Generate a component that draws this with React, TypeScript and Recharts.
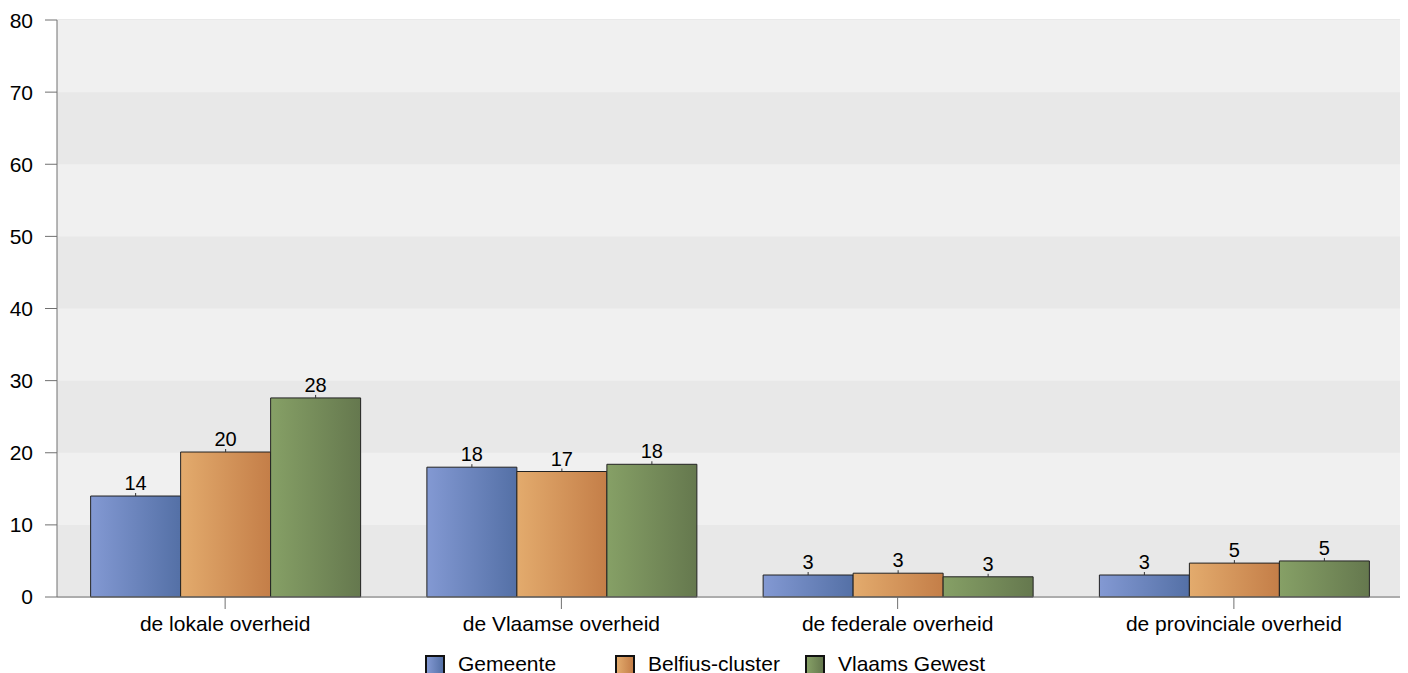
import React from 'react';
import { BarChart, Bar, XAxis, YAxis, CartesianGrid, ReferenceArea, LabelList, Legend } from 'recharts';

const categories = ['de lokale overheid', 'de Vlaamse overheid', 'de federale overheid', 'de provinciale overheid'];
const gemeente = [14.0, 18.0, 3.05, 3.05];
const belfius = [20.1, 17.4, 3.3, 4.7];
const vlaams = [27.6, 18.4, 2.8, 5.0];
const yTicks = [0, 10, 20, 30, 40, 50, 60, 70, 80];
const darkBands = [0, 20, 40, 60];

const series = [
  { key: 'gemeente', name: 'Gemeente', from: '#8399d3', to: '#5470a6' },
  { key: 'belfius', name: 'Belfius-cluster', from: '#e3ab6d', to: '#c47e48' },
  { key: 'vlaams', name: 'Vlaams Gewest', from: '#86a066', to: '#65784e' },
];

const data = categories.map((name, i) => ({
  name,
  gemeente: gemeente[i],
  belfius: belfius[i],
  vlaams: vlaams[i],
}));

const font = 'Arial, "Liberation Sans", sans-serif';

const renderLegend = () => (
  <div style={{ display: 'flex', fontFamily: font, fontSize: 21, lineHeight: '24px', color: '#000', paddingLeft: 417 }}>
    {series.map((s) => (
      <div key={s.key} style={{ display: 'flex', alignItems: 'flex-start', width: 190 }}>
        <span
          style={{
            display: 'inline-block',
            width: 16,
            height: 16,
            marginTop: 3,
            border: '2px solid #111',
            background: `linear-gradient(to right, ${s.from}, ${s.to})`,
            marginRight: 13,
            flex: 'none',
          }}
        />
        <span>{s.name}</span>
      </div>
    ))}
  </div>
);

const renderValue = (props: any) => {
  const { x, y, width, value } = props;
  const cx = Number(x) + Number(width) / 2;
  const top = Number(y);
  return (
    <g>
      <line x1={cx} y1={top} x2={cx} y2={top - 3} stroke="#333" strokeWidth={1} />
      <text x={cx} y={top - 6} textAnchor="middle" fill="#000" fontSize={20} fontFamily={font}>
        {Math.round(Number(value))}
      </text>
    </g>
  );
};

export default function App() {
  return (
    <div style={{ width: 1400, height: 665 }}>
      <BarChart
        width={1400}
        height={665}
        data={data}
        margin={{ top: 12, right: 6, left: 0, bottom: 0 }}
        barCategoryGap="10%"
        barGap={0}
      >
        <defs>
          {series.map((s) => (
            <linearGradient key={s.key} id={`grad-${s.key}`} x1="0" y1="0" x2="1" y2="0">
              <stop offset="0%" stopColor={s.from} />
              <stop offset="100%" stopColor={s.to} />
            </linearGradient>
          ))}
        </defs>
        <ReferenceArea y1={0} y2={80} fill="#f0f0f0" fillOpacity={1} stroke="none" />
        {darkBands.map((b) => (
          <ReferenceArea key={b} y1={b} y2={b + 10} fill="#e8e8e8" fillOpacity={1} stroke="none" />
        ))}
        <CartesianGrid vertical={false} stroke="#d2d2d2" />
        <XAxis
          dataKey="name"
          height={55}
          tickSize={12}
          tickMargin={7}
          stroke="#707070"
          tick={{ fill: '#000', fontSize: 21, fontFamily: font }}
        />
        <YAxis
          width={49}
          domain={[0, 80]}
          ticks={yTicks}
          tickSize={12}
          tickMargin={12}
          stroke="#707070"
          tick={{ fill: '#000', fontSize: 21, fontFamily: font }}
        />
        <Legend verticalAlign="bottom" height={21} content={renderLegend} />
        {series.map((s) => (
          <Bar
            key={s.key}
            dataKey={s.key}
            name={s.name}
            fill={`url(#grad-${s.key})`}
            stroke="#222"
            strokeWidth={1}
            isAnimationActive={false}
          >
            <LabelList dataKey={s.key} content={renderValue} />
          </Bar>
        ))}
      </BarChart>
    </div>
  );
}
